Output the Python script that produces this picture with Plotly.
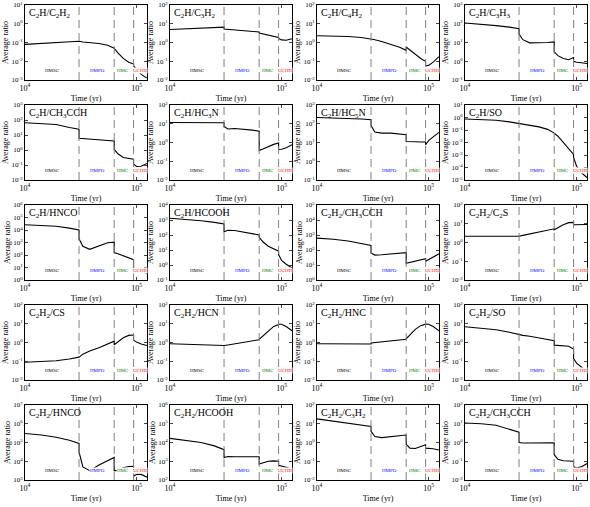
import numpy as np
import plotly.graph_objects as go

# time grid (yr); repeated values mark the phase boundaries
time = [1.0e4, 1.4e4, 1.9e4, 2.5e4, 3.05e4, 3.05e4, 3.3e4, 3.8e4, 4.6e4, 5.5e4,
        6.3e4, 6.3e4, 6.8e4, 7.6e4, 8.5e4, 9.4e4, 9.4e4, 1.0e5, 1.1e5, 1.24e5]

phase_bounds = [3.05e4, 6.3e4, 9.4e4]
phase_names = ["HMSC", "HMPO", "HMC", "UCHII"]
phase_pos = [1.75e4, 4.5e4, 7.6e4, 1.08e5]
phase_colors = ["black", "blue", "green", "red"]

titles = [
    "C<sub>2</sub>H/C<sub>2</sub>H<sub>2</sub>", "C<sub>2</sub>H/C<sub>3</sub>H<sub>2</sub>",
    "C<sub>2</sub>H/C<sub>4</sub>H<sub>2</sub>", "C<sub>2</sub>H/C<sub>3</sub>H<sub>3</sub>",
    "C<sub>2</sub>H/CH<sub>3</sub>CCH", "C<sub>2</sub>H/HC<sub>3</sub>N",
    "C<sub>2</sub>H/HC<sub>5</sub>N", "C<sub>2</sub>H/SO",
    "C<sub>2</sub>H/HNCO", "C<sub>2</sub>H/HCOOH",
    "C<sub>2</sub>H<sub>2</sub>/CH<sub>3</sub>CCH", "C<sub>2</sub>H<sub>2</sub>/C<sub>2</sub>S",
    "C<sub>2</sub>H<sub>2</sub>/CS", "C<sub>2</sub>H<sub>2</sub>/HCN",
    "C<sub>2</sub>H<sub>2</sub>/HNC", "C<sub>2</sub>H<sub>2</sub>/SO",
    "C<sub>2</sub>H<sub>2</sub>/HNCO", "C<sub>2</sub>H<sub>2</sub>/HCOOH",
    "C<sub>2</sub>H<sub>2</sub>/C<sub>3</sub>H<sub>2</sub>", "C<sub>2</sub>H<sub>2</sub>/CH<sub>3</sub>CCH",
]

# y-axis decades (log10 lower, upper) per panel
decades = [(-3, 1), (-2, 2), (-2, 2), (-1, 3),
           (-2, 3), (-2, 2), (-1, 3), (-5, 1),
           (0, 6), (-1, 4), (0, 5), (-2, 2),
           (-2, 2), (-2, 2), (-2, 2), (-2, 2),
           (3, 7), (2, 6), (-2, 2), (-2, 2)]

# log10 of the average ratio
log_ratio = [
    [-1.1, -1.05, -1.0, -0.96, -0.93, -0.93, -0.97, -1.0, -1.05, -1.15, -1.3, -1.3, -1.55, -1.85, -2.05, -2.15, -2.25, -2.45, -2.7, -2.9],
    [0.69, 0.72, 0.75, 0.79, 0.82, 0.72, 0.7, 0.67, 0.64, 0.6, 0.56, 0.5, 0.45, 0.38, 0.3, 0.27, 0.22, 0.14, 0.12, 0.2],
    [0.36, 0.35, 0.32, 0.27, 0.2, 0.2, 0.15, 0.05, -0.1, -0.25, -0.42, -0.24, -0.4, -0.65, -0.85, -1.0, -1.25, -1.22, -1.05, -0.75],
    [2.04, 1.98, 1.9, 1.82, 1.73, 1.45, 1.15, 0.98, 0.97, 1.0, 1.03, 0.5, 0.3, 0.15, 0.08, 0.2, 0.0, -0.05, -0.08, -0.12],
    [1.82, 1.78, 1.7, 1.5, 1.38, 0.78, 0.76, 0.72, 0.68, 0.65, 0.6, 0.05, -0.25, -0.5, -0.58, -0.62, -0.95, -1.1, -1.08, -0.9],
    [1.07, 1.07, 1.06, 1.06, 1.05, 0.85, 0.72, 0.75, 0.72, 0.66, 0.6, -0.42, -0.35, -0.22, -0.1, -0.03, -0.37, -0.36, -0.28, -0.12],
    [2.33, 2.31, 2.28, 2.25, 2.21, 1.9, 1.56, 1.5, 1.5, 1.46, 1.42, 1.05, 1.03, 1.04, 1.03, 1.03, 0.88, 1.1, 1.3, 1.54],
    [-0.12, -0.15, -0.22, -0.35, -0.5, -0.5, -0.55, -0.62, -0.75, -0.95, -1.2, -1.25, -1.5, -2.0, -2.5, -2.95, -3.2, -3.9, -4.4, -4.8],
    [4.42, 4.38, 4.3, 4.15, 4.0, 3.3, 2.7, 2.45, 2.75, 2.98, 3.03, 2.2, 2.1, 1.95, 1.78, 1.63, 0.95, 0.85, 0.7, 0.53],
    [3.12, 3.04, 2.95, 2.84, 2.73, 2.2, 2.32, 2.3, 2.2, 2.1, 2.0, 1.85, 1.55, 1.25, 1.05, 0.92, 0.7, 0.3, 0.05, -0.2],
    [2.79, 2.72, 2.6, 2.45, 2.3, 1.8, 1.66, 1.68, 1.72, 1.77, 1.82, 1.12, 1.18, 1.28, 1.36, 1.42, 1.25, 1.35, 1.52, 1.75],
    [0.33, 0.32, 0.31, 0.32, 0.33, 0.33, 0.38, 0.45, 0.55, 0.64, 0.73, 0.68, 0.8, 0.95, 1.06, 1.07, 0.95, 0.95, 0.96, 0.96],
    [-1.05, -1.02, -0.97, -0.88, -0.8, -0.78, -0.62, -0.45, -0.28, -0.1, 0.07, -0.12, 0.05, 0.25, 0.38, 0.4, 0.12, 0.02, -0.08, -0.16],
    [-0.07, -0.1, -0.13, -0.15, -0.16, -0.16, -0.13, -0.07, 0.0, 0.07, 0.15, 0.17, 0.35, 0.63, 0.86, 0.96, 0.97, 0.97, 0.85, 0.63],
    [-0.07, -0.07, -0.08, -0.08, -0.08, -0.03, -0.01, 0.03, 0.08, 0.12, 0.17, 0.2, 0.4, 0.7, 0.9, 0.96, 0.98, 0.97, 0.85, 0.62],
    [0.84, 0.77, 0.68, 0.55, 0.42, 0.42, 0.38, 0.33, 0.25, 0.18, 0.1, -0.14, -0.15, -0.15, -0.2, -0.35, -0.85, -1.1, -1.3, -1.55],
    [5.48, 5.4, 5.28, 5.12, 4.95, 4.5, 3.7, 3.5, 3.8, 4.05, 4.2, 3.5, 3.5, 3.65, 3.72, 3.73, 3.2, 3.3, 3.3, 3.15],
    [4.22, 4.12, 4.0, 3.82, 3.62, 3.2, 3.25, 3.24, 3.24, 3.24, 3.24, 2.85, 2.9, 3.0, 3.02, 3.0, 2.78, 2.75, 2.68, 2.55],
    [1.26, 1.15, 1.05, 0.95, 0.86, 0.6, 0.32, 0.26, 0.3, 0.35, 0.4, -0.1, -0.3, -0.32, -0.2, -0.12, -0.3, -0.3, -0.33, -0.4],
    [1.04, 1.0, 0.92, 0.7, 0.55, 0.0, -0.03, -0.03, -0.02, -0.02, -0.02, -0.65, -0.9, -0.97, -1.0, -1.0, -1.3, -1.35, -1.3, -1.12],
]

W, H = 590, 507
col_left = [25, 170, 317, 465]
row_top = [5, 105, 205, 305, 405]
pw, ph = 122, 75
serif = "Liberation Serif"

fig = go.Figure()
layout = dict(width=W, height=H, margin=dict(l=0, r=0, t=0, b=0, autoexpand=False),
              paper_bgcolor="white", plot_bgcolor="white", showlegend=False,
              font=dict(family=serif, color="black"))
shapes = []
annotations = []

for i in range(20):
    r, c = divmod(i, 4)
    n = "" if i == 0 else str(i + 1)
    xa, ya = "x" + n, "y" + n
    lo, hi = decades[i]
    x0 = col_left[c] / W
    x1 = (col_left[c] + pw) / W
    y1 = 1 - row_top[r] / H
    y0 = 1 - (row_top[r] + ph) / H

    fig.add_trace(go.Scatter(x=time, y=[10 ** v for v in log_ratio[i]], mode="lines",
                             line=dict(color="black", width=1.1),
                             xaxis=xa, yaxis=ya, hoverinfo="skip"))

    layout["xaxis" + n] = dict(
        type="log", range=[4, np.log10(1.24e5)], domain=[x0, x1], anchor=ya,
        tickvals=[1e4, 1e5], ticktext=["10<sup>4</sup>", "10<sup>5</sup>"],
        ticks="inside", ticklen=3, mirror="ticks", showline=True, linecolor="black",
        linewidth=1, showgrid=False, zeroline=False, tickfont=dict(size=8),
        automargin=False,
        title=dict(text="Time (yr)", font=dict(size=8), standoff=3))
    layout["yaxis" + n] = dict(
        type="log", range=[lo, hi], domain=[y0, y1], anchor=xa,
        tickvals=[10 ** k for k in range(lo, hi + 1)],
        ticktext=["10<sup>%d</sup>" % k for k in range(lo, hi + 1)],
        ticks="inside", ticklen=3, mirror="ticks", showline=True, linecolor="black",
        linewidth=1, showgrid=False, zeroline=False, tickfont=dict(size=7),
        automargin=False,
        title=dict(text="Average ratio", font=dict(size=8), standoff=1))

    for b in phase_bounds:
        shapes.append(dict(type="line", xref=xa, yref=ya + " domain", x0=b, x1=b, y0=0, y1=1,
                           line=dict(color="#808080", width=1, dash="8px,5px")))

    for name, pos, col in zip(phase_names, phase_pos, phase_colors):
        annotations.append(dict(x=np.log10(pos), y=0.08, xref=xa, yref=ya + " domain",
                                text=name, showarrow=False, bgcolor="white",
                                font=dict(size=5, color=col), borderpad=0))

    annotations.append(dict(x=0.02, y=1.0, xref=xa + " domain", yref=ya + " domain",
                            xanchor="left", yanchor="top", text=titles[i], showarrow=False,
                            font=dict(size=10, color="black")))

layout["shapes"] = shapes
layout["annotations"] = annotations
fig.update_layout(**layout)
fig.write_html("out.html", config={"displayModeBar": False},
               post_script="document.body.style.margin='0px';")
